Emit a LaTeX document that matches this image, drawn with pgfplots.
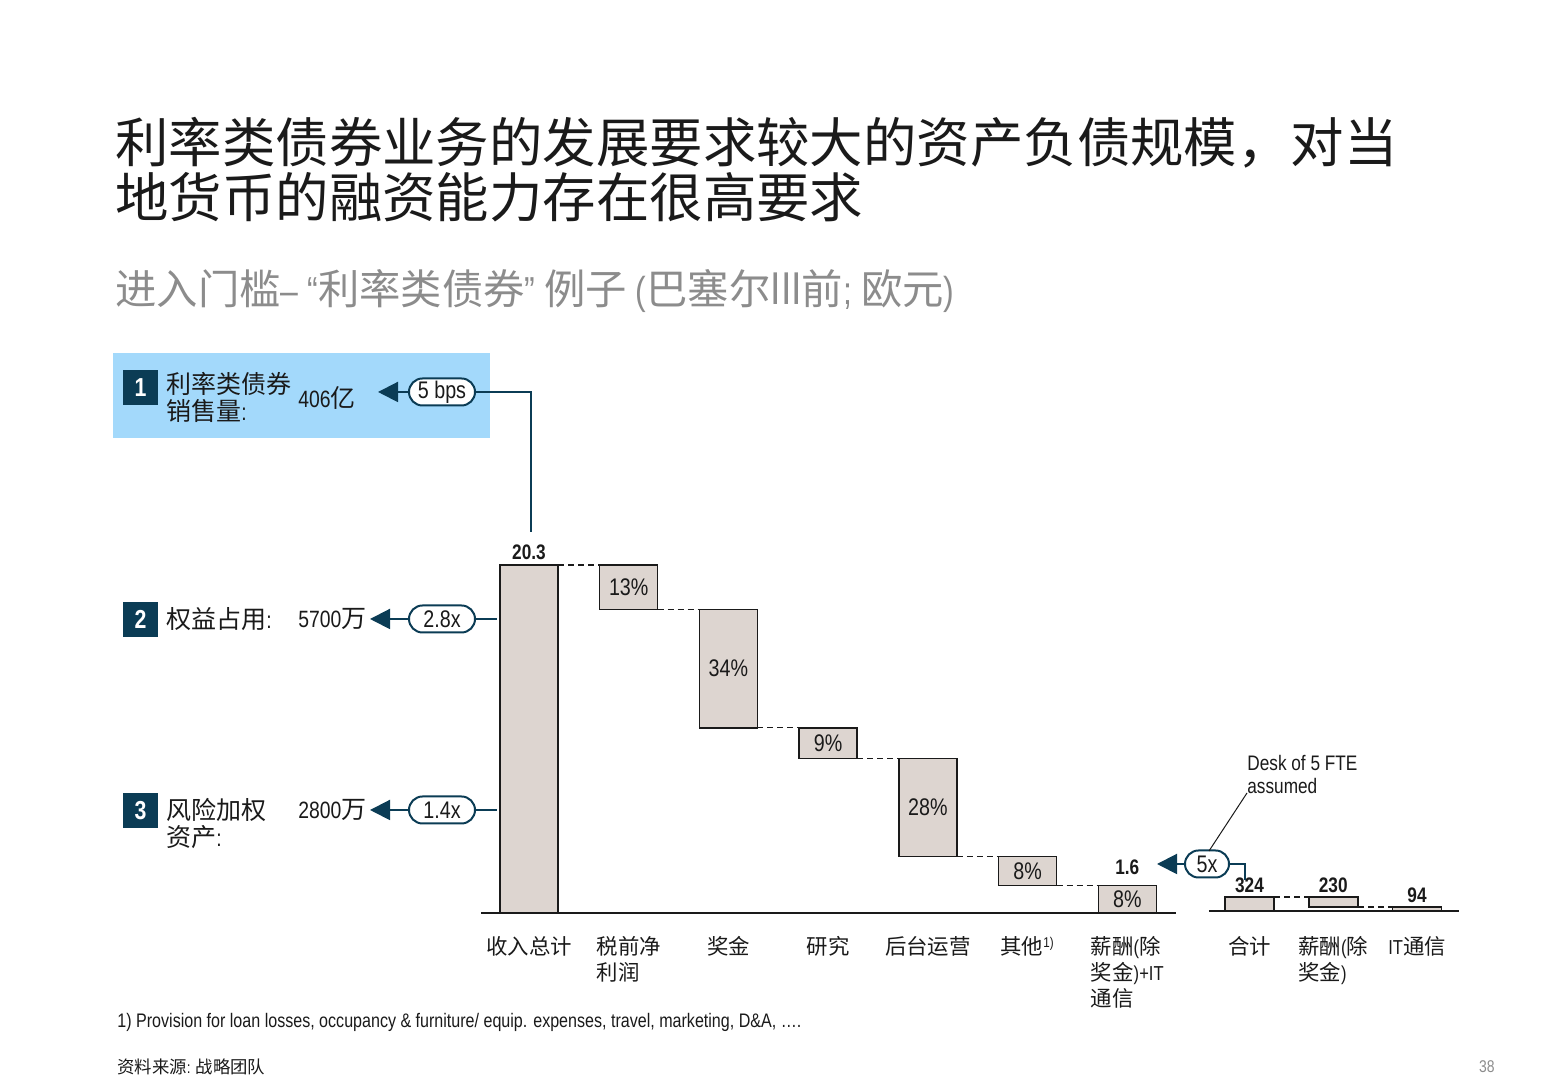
\documentclass[border=0pt]{standalone}
\usepackage{pgfplots}
\pgfplotsset{compat=1.18}
\usepackage{fontspec}
\setmainfont[FakeStretch=0.82]{Liberation Sans}
\newfontfamily\cjk[Scale=1.06]{Noto Sans CJK SC}
\newcommand\zh[1]{{\cjk #1}}
\newcommand\fs[2]{\fontsize{#1}{#2}\selectfont}
\usetikzlibrary{arrows.meta,shapes.misc}

\definecolor{navy}{HTML}{0B3C55}
\definecolor{hilite}{HTML}{A3D9FB}
\definecolor{barfill}{HTML}{DDD5D0}
\definecolor{subgrey}{HTML}{8C8C8C}
\definecolor{ink}{HTML}{1A1A1A}

\begin{document}
\begin{tikzpicture}[x=0.5pt,y=0.5pt,
  lbl/.style={inner sep=0pt, text=ink},
  numbox/.style={fill=navy, minimum size=17.5pt, inner sep=0pt, text=white, font=\fs{13}{13}\bfseries},
  pill/.style={draw=navy, line width=1pt, fill=white, rounded rectangle, minimum height=13.5pt, inner sep=0pt, text=ink, font=\fs{12}{12}},
  link/.style={navy, line width=1pt},
  tip/.style={navy, line width=1pt, -{Triangle[length=10pt,width=10pt]}}]

% revenue waterfall (EUR m); step labels go on top of the bars
\begin{scope}[shift={(529,167)}]
\begin{axis}[
  at={(0pt,0pt)}, anchor=origin,
  scale only axis, width=347.5pt, height=174pt,
  xmin=-0.48, xmax=6.49, ymin=0, ymax=20.3,
  enlargelimits=false, clip=false,
  ybar stacked, bar width=0.582,
  axis x line=bottom, axis y line=none,
  x axis line style={-, line width=1pt, draw=ink},
  xtick={0,...,6}, ytick=\empty,
  xtick style={draw=none},
  xticklabels={{\zh{收入总计}}, {\zh{税前净}\\\zh{利润}}, {\zh{奖金}}, {\zh{研究}}, {\zh{后台运营}}, {\zh{其他}\textsuperscript{1)}}, {\zh{薪酬}(\zh{除}\\\zh{奖金})+IT\\\zh{通信}}},
  xticklabel style={anchor=north, align=left, text=ink, font=\fs{10.1}{13}, yshift=-6pt},
  after end axis/.code={
    \node[lbl, font=\fs{12}{12}] at (axis cs:1,19.0) {13\%};
    \node[lbl, font=\fs{12}{12}] at (axis cs:2,14.25) {34\%};
    \node[lbl, font=\fs{12}{12}] at (axis cs:3,9.9) {9\%};
    \node[lbl, font=\fs{12}{12}] at (axis cs:4,6.15) {28\%};
    \node[lbl, font=\fs{12}{12}] at (axis cs:5,2.45) {8\%};
    \node[lbl, font=\fs{12}{12}] at (axis cs:6,0.8) {8\%};
  },
]
\addplot[draw=none, fill=none] coordinates {(0,0) (1,17.7) (2,10.8) (3,9.0) (4,3.3) (5,1.6) (6,0)};
\addplot[draw=ink, fill=barfill, line width=0.75pt] coordinates {(0,20.3) (1,2.6) (2,6.9) (3,1.8) (4,5.7) (5,1.7) (6,1.6)};
\draw[densely dashed, line width=0.6pt, ink] (axis cs:0.291,20.3) -- (axis cs:0.709,20.3);
\draw[densely dashed, line width=0.6pt, ink] (axis cs:1.291,17.7) -- (axis cs:1.709,17.7);
\draw[densely dashed, line width=0.6pt, ink] (axis cs:2.291,10.8) -- (axis cs:2.709,10.8);
\draw[densely dashed, line width=0.6pt, ink] (axis cs:3.291,9.0) -- (axis cs:3.709,9.0);
\draw[densely dashed, line width=0.6pt, ink] (axis cs:4.291,3.3) -- (axis cs:4.709,3.3);
\draw[densely dashed, line width=0.6pt, ink] (axis cs:5.291,1.6) -- (axis cs:5.709,1.6);
\node[lbl, font=\fs{10.5}{11}\bfseries, yshift=6.5pt] at (axis cs:0,20.3) {20.3};
\node[lbl, font=\fs{10.5}{11}\bfseries, yshift=9pt] at (axis cs:6,1.6) {1.6};
\end{axis}
\end{scope}

% per-desk cost breakdown (EUR k)
\begin{scope}[shift={(1249.5,169)}]
\begin{axis}[
  at={(0pt,0pt)}, anchor=origin,
  scale only axis, width=125pt, height=7pt,
  xmin=-0.484, xmax=2.5, ymin=0, ymax=324,
  enlargelimits=false, clip=false,
  ybar stacked, bar width=0.585,
  axis x line=bottom, axis y line=none,
  x axis line style={-, line width=1pt, draw=ink},
  xtick={0,1,2}, ytick=\empty,
  xtick style={draw=none},
  xticklabels={{\zh{合计}}, {\zh{薪酬}(\zh{除}\\\zh{奖金})}, {IT\zh{通信}}},
  xticklabel style={anchor=north, align=left, text=ink, font=\fs{10.1}{13}, yshift=-7pt},
]
\addplot[draw=none, fill=none] coordinates {(0,0) (1,94) (2,0)};
\addplot[draw=ink, fill=barfill, line width=0.75pt] coordinates {(0,324) (1,230) (2,94)};
\draw[densely dashed, line width=0.6pt, ink] (axis cs:0.2925,324) -- (axis cs:0.7075,324);
\draw[densely dashed, line width=0.6pt, ink] (axis cs:1.2925,94) -- (axis cs:1.7075,94);
\node[lbl, font=\fs{10.5}{11}\bfseries, yshift=6pt] at (axis cs:0,324) {324};
\node[lbl, font=\fs{10.5}{11}\bfseries, yshift=6pt] at (axis cs:1,324) {230};
\node[lbl, font=\fs{10.5}{11}\bfseries, yshift=6pt] at (axis cs:2,94) {94};
\end{axis}
\end{scope}

% headline and subtitle
\node[lbl, anchor=west] at (115,937) {\fs{25.2}{27}\zh{利率类债券业务的发展要求较大的资产负债规模，对当}};
\node[lbl, anchor=west] at (115,883) {\fs{25.2}{27}\zh{地货币的融资能力存在很高要求}};
\node[lbl, anchor=west, text=subgrey] at (115,789) {\fs{19.5}{20}\zh{进入门槛}– “\zh{利率类债券}” \zh{例子} (\zh{巴塞尔}{\fs{23}{23}III}\zh{前}; \zh{欧元})};

% left-hand drivers
\fill[hilite] (113,642) rectangle (490,727);
\node[numbox] at (140.5,692.5) {1};
\node[numbox] at (140.5,460.5) {2};
\node[numbox] at (140.5,269.5) {3};
\node[lbl, anchor=west, align=left, font=\fs{11.8}{13.5}] at (166,682.5) {\zh{利率类债券}\\\zh{销售量}:};
\node[lbl, anchor=west, font=\fs{11.8}{13.5}] at (166,461) {\zh{权益占用}:};
\node[lbl, anchor=west, align=left, font=\fs{11.8}{13.5}] at (166,256) {\zh{风险加权}\\\zh{资产}:};
\node[lbl, anchor=west, font=\fs{11.8}{13.5}] at (298,682) {406\zh{亿}};
\node[lbl, anchor=west, font=\fs{11.8}{13.5}] at (298,461) {5700\zh{万}};
\node[lbl, anchor=west, font=\fs{11.8}{13.5}] at (298,270) {2800\zh{万}};

\draw[tip] (409,688) -- (378,688);
\draw[tip] (409,461) -- (370,461);
\draw[tip] (409,270) -- (370,270);
\draw[link] (475,688) -- (531,688) -- (531,548);
\draw[link] (475,461) -- (497,461);
\draw[link] (475,270) -- (497,270);
\node[pill, minimum width=33pt] at (442,688) {5 bps};
\node[pill, minimum width=33pt] at (442,461) {2.8x};
\node[pill, minimum width=33pt] at (442,270) {1.4x};

% per-desk annotation
\draw[tip] (1185,216) -- (1157,216);
\draw[link] (1229,216) -- (1245,216) -- (1245,200);
\node[pill, minimum width=22pt] at (1207,216) {5x};
\draw[line width=0.5pt, ink] (1247,287) -- (1209,229);
\node[lbl, anchor=north west, align=left, font=\fs{10.5}{11.5}] at (1247,325) {Desk of 5 FTE\\assumed};

% footnote, source, page number
\node[lbl, anchor=west, font=\fs{9.8}{10}] at (117,58) {1) Provision for loan losses, occupancy \& furniture/ equip. expenses, travel, marketing, D\&A, \dots.};
\node[lbl, anchor=west, font=\fs{8.2}{10}] at (117,13) {\zh{资料来源}: \zh{战略团队}};
\node[lbl, anchor=east, text=subgrey, font=\fs{8.5}{10}] at (1495,13) {38};

% page frame
\pgfresetboundingbox
\path[use as bounding box] (0,0) rectangle (1560,1080);
\end{tikzpicture}
\end{document}
